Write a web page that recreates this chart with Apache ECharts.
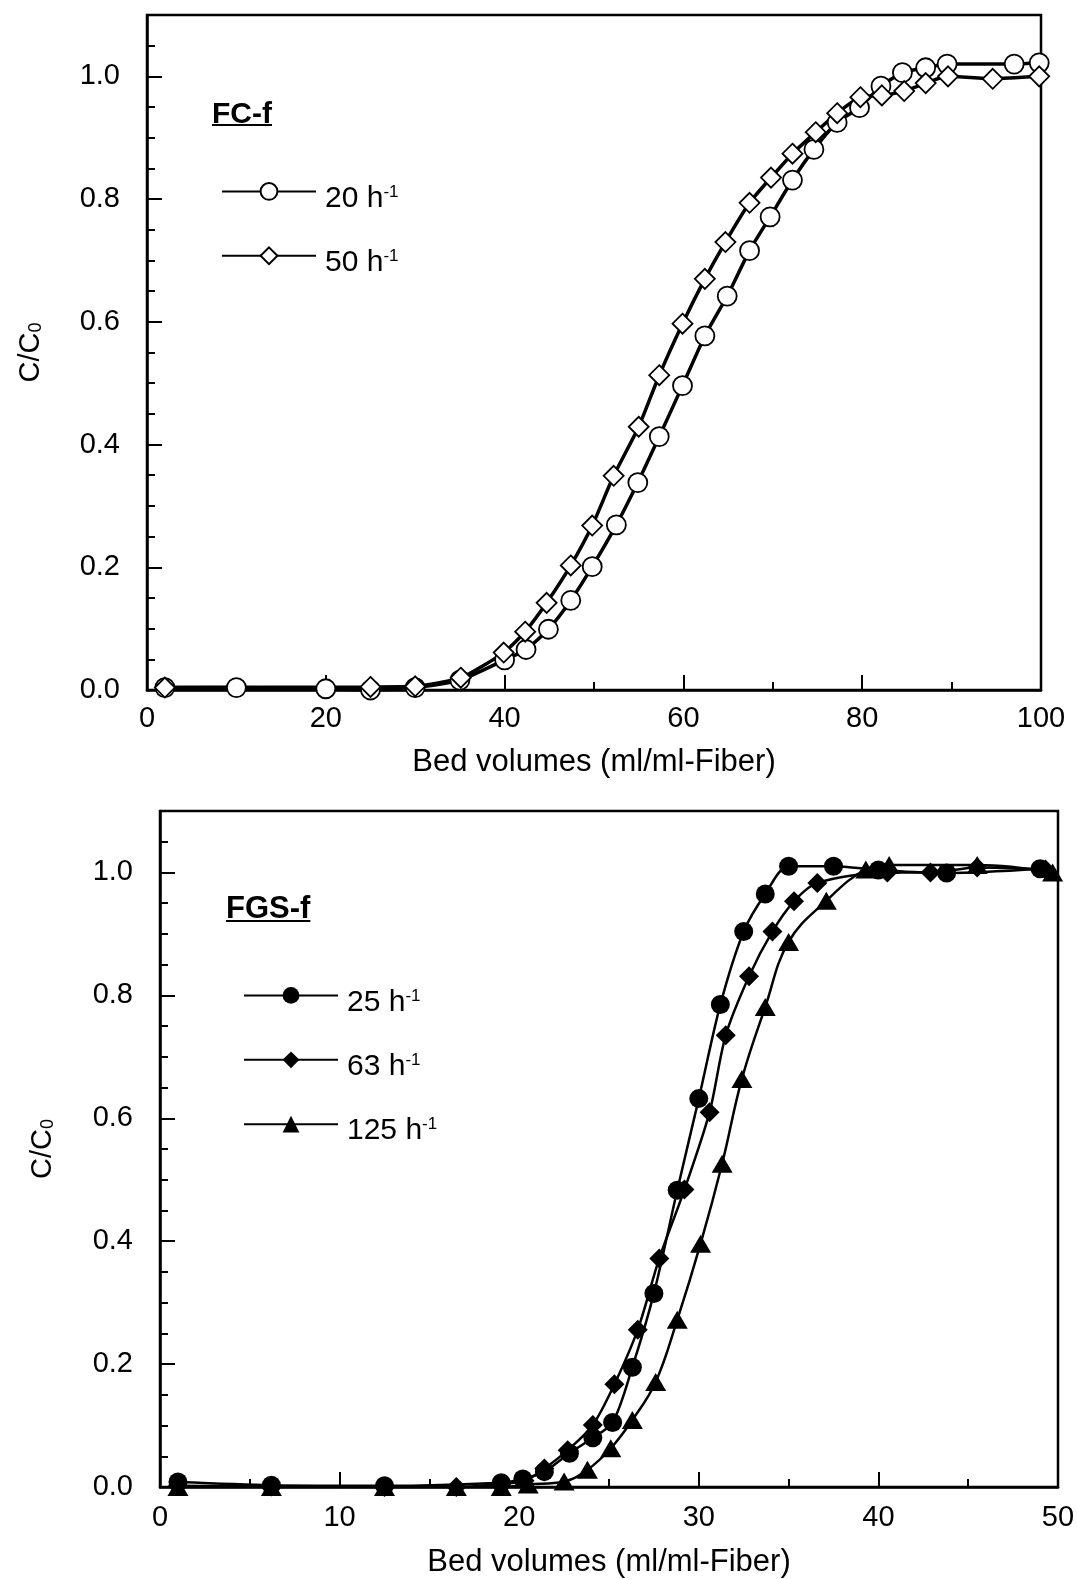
<!DOCTYPE html>
<html><head><meta charset="utf-8">
<script src="https://cdn.jsdelivr.net/npm/echarts/dist/echarts.min.js"></script>
<style>html,body{margin:0;padding:0;background:#fff}#c{width:1077px;height:1579px}</style>
</head><body><div id="c"></div>
<script>
// ---------- Top panel (FC-f) ----------
const fcTitle = 'FC-f';
const fcRates = ['20', '50'];
const fc20X = [2, 10, 20, 25, 30, 35, 40, 42.4, 44.9, 47.4, 49.8, 52.5, 54.9, 57.3, 59.9, 62.4, 64.9, 67.4, 69.7, 72.2, 74.6, 77.2, 79.7, 82.1, 84.5, 87.1, 89.5, 97.0, 99.8];
const fc20Y = [0.004, 0.004, 0.002, 0.0, 0.004, 0.016, 0.049, 0.066, 0.099, 0.146, 0.201, 0.269, 0.338, 0.413, 0.496, 0.577, 0.642, 0.716, 0.771, 0.831, 0.881, 0.925, 0.949, 0.984, 1.006, 1.014, 1.020, 1.020, 1.022];
const fc50X = [2, 25, 30, 35.1, 39.9, 42.3, 44.7, 47.4, 49.8, 52.2, 55.0, 57.3, 59.9, 62.4, 64.7, 67.4, 69.8, 72.2, 74.8, 77.2, 79.8, 82.2, 84.7, 87.1, 89.6, 94.6, 99.8];
const fc50Y = [0.004, 0.005, 0.006, 0.02, 0.061, 0.095, 0.142, 0.203, 0.268, 0.349, 0.429, 0.513, 0.597, 0.670, 0.730, 0.794, 0.835, 0.874, 0.909, 0.940, 0.966, 0.969, 0.976, 0.989, 1.0, 0.996, 1.0];
const fcXTicks = [0, 20, 40, 60, 80, 100];

// ---------- Bottom panel (FGS-f) ----------
const fgsTitle = 'FGS-f';
const fgsRates = ['25', '63', '125'];
const fgs25X = [1.0, 6.2, 12.5, 19.0, 20.2, 21.4, 22.8, 24.1, 25.2, 26.3, 27.5, 28.8, 30.0, 31.2, 32.5, 33.7, 35.0, 37.5, 40.0, 43.8, 49.0];
const fgs25Y = [0.008, 0.003, 0.002, 0.007, 0.013, 0.025, 0.055, 0.08, 0.105, 0.195, 0.315, 0.483, 0.632, 0.785, 0.904, 0.965, 1.010, 1.010, 1.004, 0.999, 1.006];
const fgs63X = [1.0, 6.2, 12.5, 16.5, 19.0, 20.3, 21.4, 22.7, 24.1, 25.3, 26.6, 27.8, 29.2, 30.6, 31.5, 32.8, 34.1, 35.3, 36.6, 40.5, 42.9, 45.5, 49.3];
const fgs63Y = [0.002, 0.001, 0.0, 0.0, 0.005, 0.01, 0.03, 0.06, 0.101, 0.167, 0.256, 0.372, 0.484, 0.61, 0.735, 0.831, 0.904, 0.953, 0.983, 1.0, 1.0, 1.008, 1.005];
const fgs125X = [1.0, 6.2, 12.5, 16.5, 19.0, 20.5, 22.5, 23.8, 25.1, 26.3, 27.6, 28.8, 30.1, 31.3, 32.4, 33.7, 35.0, 37.1, 39.3, 40.6, 45.5, 49.7];
const fgs125Y = [0.0, 0.0, 0.0, 0.0, 0.0, 0.004, 0.009, 0.028, 0.063, 0.109, 0.171, 0.272, 0.396, 0.526, 0.664, 0.781, 0.887, 0.954, 1.005, 1.012, 1.012, 1.0];
const fgsXTicks = [0, 10, 20, 30, 40, 50];

const yTicks = [0.0, 0.2, 0.4, 0.6, 0.8, 1.0];
const xName = 'Bed volumes (ml/ml-Fiber)';
const yName = 'C/C{sub|0}';

const FONT = '"Liberation Sans", Arial, Helvetica, sans-serif';
const pairs = (xs, ys) => xs.map((x, i) => [x, ys[i]]);
const rateName = r => r + ' h-1';

function measure(text, font) {
  const ctx = document.createElement('canvas').getContext('2d');
  ctx.font = font;
  return ctx.measureText(text).width;
}

const grids = [
  {left: 147, top: 15, width: 894, height: 675},
  {left: 160, top: 811, width: 898, height: 676}
];

function xAxisCfg(gi, ticks, labelMargin, nameGap) {
  return {
    type: 'value', gridIndex: gi, min: ticks[0], max: ticks[ticks.length - 1],
    interval: ticks[1] - ticks[0],
    name: xName, nameLocation: 'middle', nameGap: nameGap,
    nameTextStyle: {fontSize: 31, fontFamily: FONT, color: '#000'},
    axisLine: {show: true, lineStyle: {color: '#000', width: 2.5}},
    axisTick: {show: true, inside: true, length: 15, lineStyle: {color: '#000', width: 2}},
    minorTick: {show: true, splitNumber: 2, length: 8, lineStyle: {color: '#000', width: 2}},
    splitLine: {show: false}, minorSplitLine: {show: false},
    axisLabel: {fontSize: 29, fontFamily: FONT, color: '#000', margin: labelMargin}
  };
}
function yMajorCfg(gi, nameGap) {
  return {
    type: 'value', gridIndex: gi, position: 'left', min: 0, max: 1.1, interval: 0.2,
    name: yName, nameLocation: 'middle', nameGap: nameGap, nameRotate: 90,
    nameTextStyle: {fontSize: 29, fontFamily: FONT, color: '#000',
      rich: {sub: {fontSize: 18, fontFamily: FONT, color: '#000', verticalAlign: 'bottom', lineHeight: 17}}},
    axisLine: {show: true, lineStyle: {color: '#000', width: 2.5}},
    axisTick: {show: true, inside: true, length: 15, lineStyle: {color: '#000', width: 2}},
    splitLine: {show: false},
    axisLabel: {fontSize: 29, fontFamily: FONT, color: '#000', margin: 27, showMaxLabel: false,
      formatter: v => yTicks.some(t => Math.abs(t - v) < 1e-9) ? v.toFixed(1) : ''}
  };
}
function yMinorCfg(gi) {
  return {
    type: 'value', gridIndex: gi, position: 'left', offset: 0, min: 0, max: 1.1, interval: 0.05,
    axisLine: {show: false},
    axisTick: {show: true, inside: true, length: 8, lineStyle: {color: '#000', width: 2}},
    splitLine: {show: false}, axisLabel: {show: false}
  };
}

function legendCfg(names, left, top, gap) {
  return {
    data: names, orient: 'vertical', left: left, top: top,
    itemWidth: 94, itemHeight: 21, itemGap: gap, selectedMode: false,
    lineStyle: {width: 2},
    formatter: name => '{n|' + name.split(' ')[0] + ' h}{s|-1}',
    textStyle: {padding: [14, 0, 0, 4],
      rich: {n: {fontSize: 30, fontFamily: FONT, color: '#000'},
             s: {fontSize: 17, fontFamily: FONT, color: '#000', verticalAlign: 'top', lineHeight: 17}}}
  };
}

function lineSeries(name, xi, yi, xs, ys, symbol, size, fill, lw, smooth) {
  return {
    name: name, type: 'line', xAxisIndex: xi, yAxisIndex: yi,
    data: pairs(xs, ys), symbol: symbol, symbolSize: size, showSymbol: true,
    smooth: smooth, animation: false,
    lineStyle: {color: '#000', width: lw},
    itemStyle: {color: fill, borderColor: '#000', borderWidth: fill === '#fff' ? 1.8 : 0}
  };
}

const fcFont = 'bold 30px ' + FONT;
const fgsFont = 'bold 31px ' + FONT;
const fcW = measure(fcTitle, fcFont);
const fgsW = measure(fgsTitle, fgsFont);

const option = {
  backgroundColor: '#fff',
  animation: false,
  grid: grids.map(g => Object.assign({show: true, borderColor: '#000', borderWidth: 2.5,
    backgroundColor: 'transparent', containLabel: false, outerBoundsMode: 'none'}, g)),
  xAxis: [xAxisCfg(0, fcXTicks, 14, 57), xAxisCfg(1, fgsXTicks, 16, 60)],
  yAxis: [yMajorCfg(0, 102), yMinorCfg(0), yMajorCfg(1, 103), yMinorCfg(1)],
  legend: [
    legendCfg(fcRates.map(rateName), 216, 177, 33),
    legendCfg(fgsRates.map(rateName), 238, 982, 34)
  ],
  graphic: [
    {type: 'text', left: 212, top: 100, style: {text: fcTitle, font: fcFont, fill: '#000'}},
    {type: 'line', shape: {x1: 212, y1: 125, x2: 212 + fcW, y2: 125}, style: {stroke: '#000', lineWidth: 2}},
    {type: 'text', left: 226, top: 894, style: {text: fgsTitle, font: fgsFont, fill: '#000'}},
    {type: 'line', shape: {x1: 226, y1: 921, x2: 226 + fgsW, y2: 921}, style: {stroke: '#000', lineWidth: 2}}
  ],
  series: [
    lineSeries(rateName(fcRates[0]), 0, 0, fc20X, fc20Y, 'circle', 19, '#fff', 3.5, 0.2),
    lineSeries(rateName(fcRates[1]), 0, 0, fc50X, fc50Y, 'diamond', 20, '#fff', 3.5, 0.2),
    lineSeries(rateName(fgsRates[0]), 1, 2, fgs25X, fgs25Y, 'circle', 19, '#000', 2.5, 0.3),
    lineSeries(rateName(fgsRates[1]), 1, 2, fgs63X, fgs63Y, 'diamond', 20, '#000', 2.5, 0.3),
    lineSeries(rateName(fgsRates[2]), 1, 2, fgs125X, fgs125Y, 'triangle', [21, 18], '#000', 2.5, 0.4)
  ]
};

const chart = echarts.init(document.getElementById('c'), null, {renderer: 'canvas'});
chart.setOption(option);
</script>
</body></html>
